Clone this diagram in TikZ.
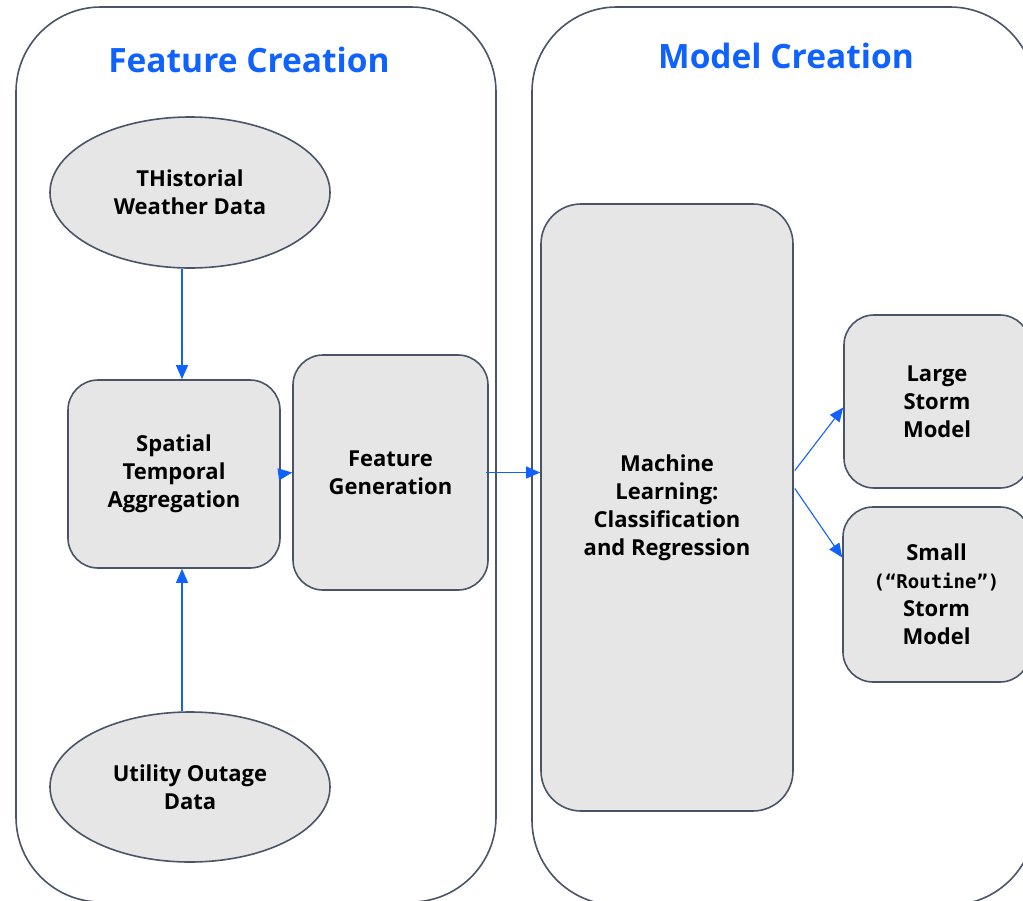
\documentclass[tikz,border=0pt]{standalone}
\usepackage{fontspec}
\setmainfont{Open Sans}
\newfontfamily\monobold{DejaVu Sans Mono}
\usetikzlibrary{arrows.meta,shapes.geometric}
\definecolor{ibmblue}{HTML}{0F62FE}
\definecolor{edgegray}{HTML}{4A5468}
\definecolor{boxfill}{HTML}{E6E6E6}
\begin{document}
\begin{tikzpicture}[x=1pt,y=-1pt,
  panel/.style={draw=edgegray, line width=1.6pt, rounded corners=85pt, inner sep=0pt},
  proc/.style={draw=edgegray, fill=boxfill, line width=1.6pt, rounded corners=30pt,
    align=center, inner sep=0pt, font=\bfseries\fontsize{22}{28}\selectfont},
  src/.style={ellipse, draw=edgegray, fill=boxfill, line width=1.6pt,
    align=center, inner sep=0pt, font=\bfseries\fontsize{22}{28}\selectfont},
  arr/.style={draw=ibmblue, line width=1.1pt, -{Triangle[length=14pt,width=12pt]}},
  heading/.style={text=ibmblue, font=\bfseries\fontsize{33.5}{40}\selectfont}]
\useasboundingbox (0,0) rectangle (1023,900);
\clip (0,0) rectangle (1023,900);

% the two stage panels
\node[panel, minimum width=480pt, minimum height=895pt] (left) at (256,454.5) {};
\node[panel, minimum width=503pt, minimum height=898pt] (right) at (783.5,456) {};
\node[heading] (t1) at (249,60) {Feature Creation};
\node[heading] (t2) at (786,56) {Model Creation};

% data sources
\node[src, minimum width=280pt, minimum height=151pt] (wx) at (190,192.5) {THistorial\\Weather Data};
\node[src, minimum width=280pt, minimum height=150pt] (outage) at (190,787) {Utility Outage\\Data};

% processing steps
\node[proc, minimum width=212pt, minimum height=188pt] (agg) at (174,474) {Spatial\\Temporal\\Aggregation};
\node[proc, minimum width=195pt, minimum height=235pt] (feat) at (390.5,472.5) {Feature\\Generation};
\node[proc, rounded corners=40pt, minimum width=252pt, minimum height=607pt] (ml) at (667,507.5)
  {Machine\\Learning:\\Classification\\and Regression};

% resulting models
\node[proc, minimum width=186pt, minimum height=173pt] (large) at (937,401.5) {Large\\Storm\\Model};
\node[proc, minimum width=187pt, minimum height=175pt] (small) at (936.5,594.5)
  {Small\\{\monobold\fontsize{19}{28}\selectfont(“Routine”)}\\Storm\\Model};

% flow
\draw[arr] ([xshift=-8pt]wx.south) -- ([xshift=8pt]agg.north);
\draw[arr] ([xshift=-8pt]outage.north) -- ([xshift=8pt]agg.south);
\draw[arr] (agg.east) -- (feat.west);
\draw[arr] ([xshift=-3pt]feat.east) -- (feat.east -| ml.west);
\draw[arr] ([xshift=1pt,yshift=37pt]ml.east) -- ([yshift=-6pt]large.west);
\draw[arr] ([xshift=1pt,yshift=19pt]ml.east) -- ([yshift=37pt]small.west);
\end{tikzpicture}
\end{document}
